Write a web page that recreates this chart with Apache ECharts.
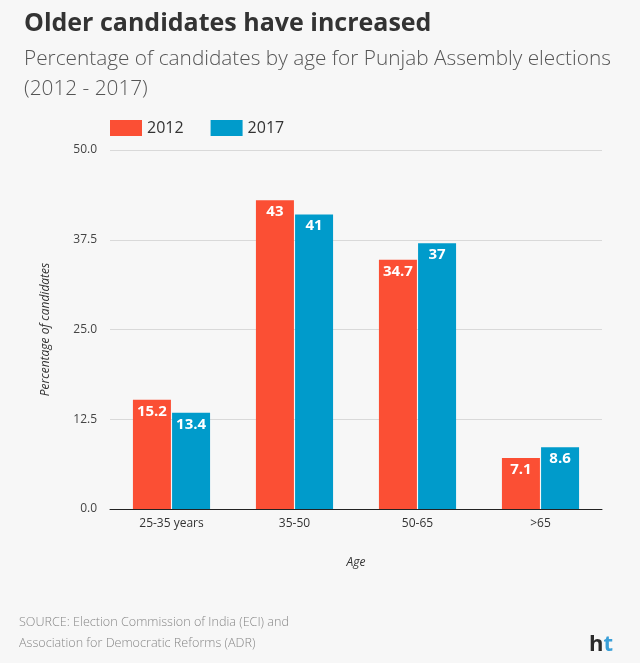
<!DOCTYPE html>
<html>
<head>
<meta charset="utf-8">
<script src="https://cdn.jsdelivr.net/npm/echarts@6/dist/echarts.min.js"></script>
<style>
  html, body { margin: 0; padding: 0; background: #f7f7f7; }
  #chart { width: 640px; height: 663px; }
</style>
</head>
<body>
<div id="chart"></div>
<script>
// data
const ages = ['25-35 years', '35-50', '50-65', '>65']
const y2012 = [15.2, 43, 34.7, 7.1]
const y2017 = [13.4, 41, 37, 8.6]
const yTicks = [0, 12.5, 25, 37.5, 50]

const font = '"Open Sans", "Noto Sans", sans-serif'
const chart = echarts.init(document.getElementById('chart'))

const barLabel = {
  show: true,
  position: 'insideTop',
  distance: 4,
  color: '#fff',
  fontWeight: 'bold',
  fontSize: 15,
  fontFamily: font
}

chart.setOption({
  backgroundColor: '#f7f7f7',
  textStyle: { fontFamily: font },
  title: [
    {
      text: 'Older candidates have increased',
      left: 19,
      top: 6,
      textStyle: { fontSize: 25, fontWeight: 'bold', color: '#333', fontFamily: font }
    },
    {
      text: 'Percentage of candidates by age for Punjab Assembly elections\n(2012 - 2017)',
      left: 19,
      top: 39,
      textStyle: { fontSize: 20.8, fontWeight: 300, color: '#555', lineHeight: 30, fontFamily: font }
    }
  ],
  legend: {
    left: 105,
    top: 115,
    itemWidth: 32,
    itemHeight: 16,
    itemGap: 27,
    icon: 'rect',
    textStyle: { fontSize: 16, color: '#333', fontFamily: font },
    data: ['2012', '2017']
  },
  grid: { left: 110, right: 38, top: 150, bottom: 154 },
  xAxis: {
    type: 'category',
    data: ages,
    name: 'Age',
    nameLocation: 'middle',
    nameGap: 48,
    nameTextStyle: { fontStyle: 'italic', fontSize: 12, color: '#333' },
    axisLine: { lineStyle: { color: '#222' } },
    axisTick: { show: false },
    axisLabel: { fontSize: 12, color: '#333', margin: 9 }
  },
  yAxis: {
    type: 'value',
    min: yTicks[0],
    max: yTicks[yTicks.length - 1],
    interval: 12.5,
    name: 'Percentage of candidates',
    nameLocation: 'middle',
    nameGap: 58,
    nameTextStyle: { fontStyle: 'italic', fontSize: 12, color: '#333' },
    axisLabel: {
      fontSize: 12,
      color: '#444',
      margin: 13,
      formatter: (v) => v.toFixed(1)
    },
    splitLine: { lineStyle: { color: '#d9d9d9' } }
  },
  series: [
    {
      name: '2012',
      type: 'bar',
      data: y2012,
      barWidth: 38,
      barGap: '3%',
      itemStyle: { color: '#fb4f34' },
      label: barLabel
    },
    {
      name: '2017',
      type: 'bar',
      data: y2017,
      barWidth: 38,
      itemStyle: { color: '#009bcb' },
      label: barLabel
    }
  ],
  graphic: [
    {
      type: 'text',
      left: 19,
      top: 612,
      style: {
        text: 'SOURCE: Election Commission of India (ECI) and\nAssociation for Democratic Reforms (ADR)',
        fontSize: 12.6,
        lineHeight: 21,
        fill: '#888',
        fontFamily: font,
        fontWeight: 300
      }
    },
    {
      type: 'text',
      left: 589,
      top: 634,
      style: {
        text: '{h|h}{t|t}',
        rich: {
          h: { fontSize: 22, fontWeight: 'bold', fill: '#2b2b2b', fontFamily: font },
          t: { fontSize: 22, fontWeight: 'bold', fill: '#3a9fd8', fontFamily: font }
        }
      }
    }
  ]
})
</script>
</body>
</html>
